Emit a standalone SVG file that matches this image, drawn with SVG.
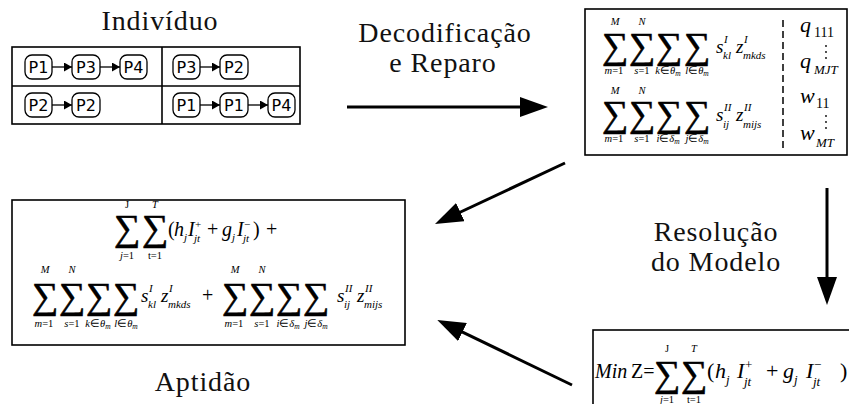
<svg xmlns="http://www.w3.org/2000/svg" width="849" height="404" viewBox="0 0 849 404">
<style>
.lbl{font-family:"Liberation Serif",serif;font-size:28px;letter-spacing:0.9px;text-anchor:middle;fill:#111}
.mi{font-family:"Liberation Serif",serif;font-style:italic;fill:#000}
.mr{font-family:"Liberation Serif",serif;font-style:normal;fill:#000}
.sig{font-family:"Liberation Serif",serif;font-size:37px;text-anchor:middle;fill:#000;stroke:#000;stroke-width:0.6}
.lim{font-size:10.5px;text-anchor:middle}
.v{font-size:19px}
.s{font-size:11px}
.box{fill:#fff;stroke:#000;stroke-width:1.6}
.pb{fill:#fff;stroke:#000;stroke-width:1.3}
.pt{font-family:"DejaVu Sans",sans-serif;font-size:16px;text-anchor:middle;fill:#000}
.tl{stroke:#000;stroke-width:1.6}
.con{stroke:#000;stroke-width:3;fill:none;marker-end:url(#ah)}
.sm{stroke:#000;stroke-width:1.3;marker-end:url(#sa)}
</style>
<defs>
<marker id="ah" markerUnits="userSpaceOnUse" markerWidth="28" markerHeight="20" refX="8" refY="10" orient="auto"><path d="M0,0 L28,10 L0,20 z" fill="#000"/></marker>
<marker id="sa" markerUnits="userSpaceOnUse" markerWidth="8" markerHeight="9" refX="8" refY="4.5" orient="auto"><path d="M0,0 L8,4.5 L0,9 z" fill="#000"/></marker>
</defs>

<text class="lbl" x="160" y="30">Indivíduo</text>

<g id="individuo">
<rect class="box" x="12" y="47" width="288" height="77" fill="none"/>
<line class="tl" x1="162" y1="47" x2="162" y2="124"/>
<line class="tl" x1="12" y1="86" x2="300" y2="86"/>
<rect class="pb" x="25" y="55" width="27" height="24" rx="7"/><text class="pt" x="38.5" y="73">P1</text>
<rect class="pb" x="72" y="55" width="28" height="24" rx="7"/><text class="pt" x="86" y="73">P3</text>
<rect class="pb" x="120" y="55" width="27" height="24" rx="7"/><text class="pt" x="133.5" y="73">P4</text>
<line class="sm" x1="52" y1="67" x2="72" y2="67"/>
<line class="sm" x1="100" y1="67" x2="120" y2="67"/>
<rect class="pb" x="173" y="55" width="27" height="24" rx="7"/><text class="pt" x="186.5" y="73">P3</text>
<rect class="pb" x="220" y="55" width="28" height="24" rx="7"/><text class="pt" x="234" y="73">P2</text>
<line class="sm" x1="200" y1="67" x2="220" y2="67"/>
<rect class="pb" x="25" y="93" width="27" height="24" rx="7"/><text class="pt" x="38.5" y="111">P2</text>
<rect class="pb" x="72" y="93" width="28" height="24" rx="7"/><text class="pt" x="86" y="111">P2</text>
<line class="sm" x1="52" y1="105" x2="72" y2="105"/>
<rect class="pb" x="173" y="93" width="27" height="24" rx="7"/><text class="pt" x="186.5" y="111">P1</text>
<rect class="pb" x="220" y="93" width="28" height="24" rx="7"/><text class="pt" x="234" y="111">P1</text>
<rect class="pb" x="268" y="93" width="27" height="24" rx="7"/><text class="pt" x="281.5" y="111">P4</text>
<line class="sm" x1="200" y1="105" x2="220" y2="105"/>
<line class="sm" x1="248" y1="105" x2="268" y2="105"/>
</g>

<g id="decodificado">
<rect class="box" x="585" y="9" width="262" height="146"/>
<line x1="783" y1="20" x2="783" y2="148" stroke="#000" stroke-width="1.5" stroke-dasharray="7 4"/>
<text class="sig" x="615" y="58">∑</text><text class="sig" x="642" y="58">∑</text><text class="sig" x="669" y="58">∑</text><text class="sig" x="697" y="58">∑</text>
<text class="mi lim" x="615" y="25">M</text><text class="mi lim" x="642" y="25">N</text>
<text class="mi lim" x="614" y="74">m<tspan class="mr">=1</tspan></text>
<text class="mi lim" x="642" y="74">s<tspan class="mr">=1</tspan></text>
<text class="mi lim" x="668" y="74">k<tspan class="mr">∈</tspan>θ<tspan font-size="7.5" dy="2">m</tspan></text>
<text class="mi lim" x="697" y="74">l<tspan class="mr">∈</tspan>θ<tspan font-size="7.5" dy="2">m</tspan></text>
<text class="mi v" x="716" y="53">s</text><text class="mi s" x="724" y="43">I</text><text class="mi s" x="723" y="59">kl</text>
<text class="mi v" x="736" y="53">z</text><text class="mi s" x="744" y="43">I</text><text class="mi s" x="743" y="59">mkds</text>
<text class="sig" x="615" y="126">∑</text><text class="sig" x="642" y="126">∑</text><text class="sig" x="669" y="126">∑</text><text class="sig" x="697" y="126">∑</text>
<text class="mi lim" x="615" y="94">M</text><text class="mi lim" x="642" y="94">N</text>
<text class="mi lim" x="614" y="142">m<tspan class="mr">=1</tspan></text>
<text class="mi lim" x="642" y="142">s<tspan class="mr">=1</tspan></text>
<text class="mi lim" x="668" y="142">i<tspan class="mr">∈</tspan>δ<tspan font-size="7.5" dy="2">m</tspan></text>
<text class="mi lim" x="697" y="142">j<tspan class="mr">∈</tspan>δ<tspan font-size="7.5" dy="2">m</tspan></text>
<text class="mi v" x="716" y="121">s</text><text class="mi s" x="724" y="111">II</text><text class="mi s" x="723" y="128">ij</text>
<text class="mi v" x="736" y="121">z</text><text class="mi s" x="744" y="111">II</text><text class="mi s" x="743" y="128">mijs</text>
<text class="mi" font-size="22" x="800" y="32">q</text><text class="mr" font-size="14" x="814" y="37">111</text>
<circle cx="826" cy="46" r="0.9"/><circle cx="826" cy="52" r="0.9"/><circle cx="826" cy="58" r="0.9"/>
<text class="mi" font-size="22" x="800" y="68">q</text><text class="mi" font-size="13" x="814" y="74">MJT</text>
<text class="mi" font-size="22" x="800" y="103">w</text><text class="mr" font-size="14" x="816" y="108">11</text>
<circle cx="826" cy="116" r="0.9"/><circle cx="826" cy="122" r="0.9"/><circle cx="826" cy="128" r="0.9"/>
<text class="mi" font-size="22" x="800" y="140">w</text><text class="mi" font-size="13" x="816" y="147">MT</text>
</g>

<g id="aptidao">
<rect class="box" x="12" y="200" width="393" height="145"/>
<text class="sig" x="127" y="240">∑</text><text class="sig" x="155" y="240">∑</text>
<text class="mr lim" x="127" y="208">J</text><text class="mi lim" x="155" y="208">T</text>
<text class="mi lim" x="127" y="259">j<tspan class="mr">=1</tspan></text><text class="mr lim" x="155" y="259">t=1</text>
<text class="mr" font-size="20" x="168" y="236">(</text>
<text class="mi" font-size="20" x="174" y="236">h</text><text class="mi s" x="184" y="241">j</text>
<text class="mi" font-size="20" x="188" y="236">I</text><text class="mr s" x="195" y="228">+</text><text class="mi s" x="194" y="242">jt</text>
<text class="mr" font-size="20" x="207" y="236">+</text>
<text class="mi" font-size="20" x="222" y="236">g</text><text class="mi s" x="232" y="241">j</text>
<text class="mi" font-size="20" x="237" y="236">I</text><text class="mr s" x="244" y="228">−</text><text class="mi s" x="243" y="242">jt</text>
<text class="mr" font-size="20" x="253" y="236">)</text>
<text class="mr" font-size="20" x="266" y="236">+</text>
<text class="sig" x="45" y="308">∑</text><text class="sig" x="72" y="308">∑</text><text class="sig" x="99" y="308">∑</text><text class="sig" x="126" y="308">∑</text>
<text class="mi lim" x="45" y="273">M</text><text class="mi lim" x="72" y="273">N</text>
<text class="mi lim" x="44" y="327">m<tspan class="mr">=1</tspan></text>
<text class="mi lim" x="72" y="327">s<tspan class="mr">=1</tspan></text>
<text class="mi lim" x="98" y="327">k<tspan class="mr">∈</tspan>θ<tspan font-size="7.5" dy="2">m</tspan></text>
<text class="mi lim" x="126" y="327">l<tspan class="mr">∈</tspan>θ<tspan font-size="7.5" dy="2">m</tspan></text>
<text class="mi v" x="141" y="302">s</text><text class="mi s" x="149" y="292">I</text><text class="mi s" x="148" y="308">kl</text>
<text class="mi v" x="161" y="302">z</text><text class="mi s" x="169" y="292">I</text><text class="mi s" x="168" y="308">mkds</text>
<text class="mr" font-size="20" x="202" y="302">+</text>
<text class="sig" x="235" y="308">∑</text><text class="sig" x="262" y="308">∑</text><text class="sig" x="289" y="308">∑</text><text class="sig" x="316" y="308">∑</text>
<text class="mi lim" x="235" y="273">M</text><text class="mi lim" x="262" y="273">N</text>
<text class="mi lim" x="234" y="327">m<tspan class="mr">=1</tspan></text>
<text class="mi lim" x="262" y="327">s<tspan class="mr">=1</tspan></text>
<text class="mi lim" x="288" y="327">i<tspan class="mr">∈</tspan>δ<tspan font-size="7.5" dy="2">m</tspan></text>
<text class="mi lim" x="316" y="327">j<tspan class="mr">∈</tspan>δ<tspan font-size="7.5" dy="2">m</tspan></text>
<text class="mi v" x="337" y="302">s</text><text class="mi s" x="345" y="292">II</text><text class="mi s" x="344" y="308">ij</text>
<text class="mi v" x="357" y="302">z</text><text class="mi s" x="365" y="292">II</text><text class="mi s" x="364" y="308">mijs</text>
</g>
<text class="lbl" x="203" y="391">Aptidão</text>

<g id="modelo">
<rect class="box" x="593" y="330" width="262" height="80"/>
<text class="mi" font-size="20" x="595" y="378">Min</text>
<text class="mr" font-size="20" x="631" y="378">Z=</text>
<text class="sig" x="667" y="386">∑</text><text class="sig" x="694" y="386">∑</text>
<text class="mr lim" x="667" y="352">J</text><text class="mi lim" x="694" y="352">T</text>
<text class="mi lim" x="667" y="403">j<tspan class="mr">=1</tspan></text><text class="mr lim" x="694" y="403">t=1</text>
<text class="mr" font-size="22" x="707" y="378">(</text>
<text class="mi" font-size="22" x="715" y="378">h</text><text class="mi" font-size="13" x="726" y="384">j</text>
<text class="mi" font-size="22" x="737" y="378">I</text><text class="mr" font-size="13" x="745" y="369">+</text><text class="mi" font-size="13" x="744" y="386">jt</text>
<text class="mr" font-size="22" x="766" y="378">+</text>
<text class="mi" font-size="22" x="783" y="378">g</text><text class="mi" font-size="13" x="794" y="384">j</text>
<text class="mi" font-size="22" x="806" y="378">I</text><text class="mr" font-size="13" x="814" y="369">−</text><text class="mi" font-size="13" x="813" y="386">jt</text>
<text class="mr" font-size="22" x="840" y="378">)</text>
</g>

<g id="connectors">
<line class="con" x1="347" y1="107" x2="528" y2="107"/>
<line class="con" x1="565" y1="163" x2="453.1" y2="215.5"/>
<line class="con" x1="827" y1="188" x2="827" y2="285"/>
<line class="con" x1="572" y1="385" x2="455.3" y2="328.6"/>
</g>
<text class="lbl" x="445" y="42">Decodificação</text>
<text class="lbl" x="443" y="72">e Reparo</text>
<text class="lbl" x="716" y="241">Resolução</text>
<text class="lbl" x="716" y="271">do Modelo</text>
</svg>
